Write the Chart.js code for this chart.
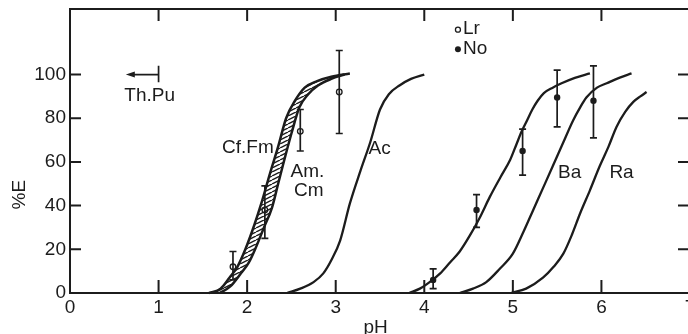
<!DOCTYPE html>
<html>
<head>
<meta charset="utf-8">
<script src="https://cdn.jsdelivr.net/npm/chart.js@4"></script>
<style>
  html, body { margin: 0; padding: 0; background: #fff; overflow: hidden; }
  #wrap { width: 688px; height: 334px; overflow: hidden; }
  canvas { display: block; }
</style>
</head>
<body>
<div id="wrap"><canvas id="c" width="700" height="334" style="width:700px;height:334px"></canvas></div>
<script>
// ---- tick values ----
const xTicks = [0, 1, 2, 3, 4, 5, 6, 7];
const yTicks = [0, 20, 40, 60, 80, 100];

// ---- curves (pH, %E) ----
const cfFmX = [1.57, 1.70, 1.80, 1.89, 1.98, 2.08, 2.16, 2.26, 2.35, 2.44, 2.54, 2.65, 2.79, 2.95, 3.16];
const cfFmY = [0, 2, 7, 12, 20, 31, 41, 55, 67, 80, 88, 94, 97, 99, 100.5];

const amCmX = [1.69, 1.81, 1.93, 2.02, 2.09, 2.19, 2.28, 2.35, 2.42, 2.50, 2.59, 2.69, 2.80, 2.95, 3.10];
const amCmY = [0, 3, 9, 14, 20, 30, 39, 50, 61, 73, 85, 91, 95, 98, 100];

const acX = [2.45, 2.60, 2.75, 2.86, 2.95, 3.05, 3.16, 3.28, 3.39, 3.50, 3.60, 3.72, 3.85, 4.00];
const acY = [0, 2, 5, 9, 15, 24, 41, 56, 69, 84, 91, 95, 98, 100];

const noCurveX = [3.83, 3.95, 4.06, 4.18, 4.29, 4.40, 4.51, 4.62, 4.74, 4.86, 4.97, 5.04, 5.10, 5.16, 5.22, 5.28, 5.35, 5.45, 5.55, 5.70, 5.87];
const noCurveY = [0, 2, 5, 9, 14, 19, 26, 34, 44, 53, 61, 68, 74, 79, 84, 88, 91.5, 94, 96, 98.5, 100.5];

const baX = [4.40, 4.55, 4.70, 4.85, 5.00, 5.12, 5.23, 5.34, 5.45, 5.57, 5.68, 5.76, 5.83, 5.95, 6.06, 6.20, 6.34];
const baY = [0, 2, 5, 11, 18, 28, 38, 48, 58, 69, 79, 85, 89.5, 94, 96, 98.5, 100.5];

const raX = [4.98, 5.15, 5.34, 5.46, 5.57, 5.67, 5.76, 5.87, 5.98, 6.08, 6.17, 6.27, 6.36, 6.44, 6.51];
const raY = [0, 2, 7, 12, 18, 27, 36.5, 47, 58, 67, 76, 83, 87.5, 90, 92];

// ---- measured points with error bars ----
const lrX = [1.84, 2.20, 2.60, 3.04];
const lrY = [12, 38, 74, 92];
const lrLo = [6, 25, 65, 73];
const lrHi = [19, 49, 84, 111];

const noX = [4.10, 4.59, 5.11, 5.50, 5.91];
const noY = [6, 38, 65, 89.5, 88];
const noLo = [2, 30, 54, 76, 71];
const noHi = [11, 45, 75, 102, 104];

// ---- text annotations (label, x, y in data units) ----
const labelText = ['Cf.Fm', 'Am.', 'Cm', 'Ac', 'Ba', 'Ra', 'Th.Pu'];
const labelX = [2.30, 2.49, 2.53, 3.37, 5.51, 6.09, 0.90];
const labelY = [66.5, 55.5, 47, 66, 55, 55, 90.5];
const labelAlign = ['right', 'left', 'left', 'left', 'left', 'left', 'center'];

const FONT = '"Liberation Sans", Arial, Helvetica, sans-serif';
const INK = '#1c1c1c';

const zip = (xs, ys) => xs.map((x, i) => ({ x, y: ys[i] }));

function hatchPattern() {
  const c = document.createElement('canvas');
  c.width = 8; c.height = 4;
  const g = c.getContext('2d');
  g.strokeStyle = INK;
  g.lineWidth = 1.4;
  for (let k = -1; k <= 1; k++) {
    g.beginPath();
    g.moveTo(k * 8, 4);
    g.lineTo(k * 8 + 8, 0);
    g.stroke();
  }
  const ctx = document.getElementById('c').getContext('2d');
  return ctx.createPattern(c, 'repeat');
}

const bandData = zip(cfFmX, cfFmY).concat(zip(amCmX, amCmY).reverse());

const curveStyle = {
  showLine: true, borderColor: INK, borderWidth: 2.3, pointRadius: 0,
  cubicInterpolationMode: 'monotone', fill: false, clip: false
};

const framePlugin = {
  id: 'frame',
  afterDraw(chart) {
    const { ctx, chartArea: a, scales: { x, y } } = chart;
    ctx.save();
    ctx.strokeStyle = INK;
    ctx.lineWidth = 2;
    ctx.strokeRect(a.left, a.top, a.right - a.left, a.bottom - a.top);
    ctx.beginPath();
    yTicks.forEach(v => {
      if (v === 0) return;
      const py = y.getPixelForValue(v);
      ctx.moveTo(a.left, py); ctx.lineTo(a.left + 11, py);
      ctx.moveTo(a.right, py); ctx.lineTo(a.right - 12, py);
    });
    xTicks.forEach(v => {
      if (v === 0 || v === 7) return;
      const px = x.getPixelForValue(v);
      ctx.moveTo(px, a.top); ctx.lineTo(px, a.top + 12);
      ctx.moveTo(px, a.bottom); ctx.lineTo(px, a.bottom - 13);
    });
    ctx.stroke();

    // error bars
    ctx.lineWidth = 1.7;
    const bars = (xs, lo, hi) => {
      xs.forEach((v, i) => {
        const px = x.getPixelForValue(v);
        const p1 = y.getPixelForValue(lo[i]);
        const p2 = y.getPixelForValue(hi[i]);
        ctx.beginPath();
        ctx.moveTo(px, p1); ctx.lineTo(px, p2);
        ctx.moveTo(px - 3.5, p1); ctx.lineTo(px + 3.5, p1);
        ctx.moveTo(px - 3.5, p2); ctx.lineTo(px + 3.5, p2);
        ctx.stroke();
      });
    };
    bars(lrX, lrLo, lrHi);
    bars(noX, noLo, noHi);

    // annotations
    ctx.fillStyle = INK;
    ctx.font = '19px ' + FONT;
    ctx.textBaseline = 'middle';
    labelText.forEach((t, i) => {
      ctx.textAlign = labelAlign[i];
      ctx.fillText(t, x.getPixelForValue(labelX[i]), y.getPixelForValue(labelY[i]));
    });

    // Th.Pu arrow
    const ay = y.getPixelForValue(100);
    const ax0 = x.getPixelForValue(0.63);
    const ax1 = x.getPixelForValue(1.0);
    ctx.lineWidth = 1.7;
    ctx.beginPath();
    ctx.moveTo(ax0 + 6, ay); ctx.lineTo(ax1, ay);
    ctx.moveTo(ax1, y.getPixelForValue(104)); ctx.lineTo(ax1, y.getPixelForValue(96.5));
    ctx.stroke();
    ctx.beginPath();
    ctx.moveTo(ax0, ay); ctx.lineTo(ax0 + 9, ay - 3); ctx.lineTo(ax0 + 9, ay + 3); ctx.closePath();
    ctx.fill();

    // legend
    const lx = x.getPixelForValue(4.38);
    const ly1 = y.getPixelForValue(121);
    const ly2 = y.getPixelForValue(112);
    ctx.beginPath(); ctx.arc(lx, ly1 + 1, 2.5, 0, Math.PI * 2);
    ctx.lineWidth = 1.3; ctx.stroke();
    ctx.beginPath(); ctx.arc(lx, ly2 + 1, 3, 0, Math.PI * 2); ctx.fill();
    ctx.textAlign = 'left';
    ctx.fillText('Lr', lx + 5, ly1);
    ctx.fillText('No', lx + 5, ly2);

    // axis titles
    ctx.textAlign = 'center';
    ctx.fillText('pH', x.getPixelForValue(3.45), a.bottom + 35);
    ctx.save();
    ctx.translate(20, y.getPixelForValue(45));
    ctx.rotate(-Math.PI / 2);
    ctx.fillText('%E', 0, 0);
    ctx.restore();
    ctx.restore();
  }
};

new Chart(document.getElementById('c'), {
  type: 'scatter',
  data: {
    datasets: [
      { data: bandData, showLine: true, fill: 'shape', backgroundColor: hatchPattern(), borderWidth: 0, pointRadius: 0, tension: 0.35, clip: false },
      Object.assign({ data: zip(cfFmX, cfFmY) }, curveStyle, { borderWidth: 2.5 }),
      Object.assign({ data: zip(amCmX, amCmY) }, curveStyle, { borderWidth: 2.5 }),
      Object.assign({ data: zip(acX, acY) }, curveStyle),
      Object.assign({ data: zip(noCurveX, noCurveY) }, curveStyle),
      Object.assign({ data: zip(baX, baY) }, curveStyle),
      Object.assign({ data: zip(raX, raY) }, curveStyle),
      { data: zip(lrX, lrY), showLine: false, pointRadius: 2.8, pointBackgroundColor: '#fff', pointBorderColor: INK, pointBorderWidth: 1.3 },
      { data: zip(noX, noY), showLine: false, pointRadius: 3.2, pointBackgroundColor: INK, pointBorderColor: INK, pointBorderWidth: 0 }
    ]
  },
  options: {
    responsive: false,
    animation: false,
    devicePixelRatio: 1,
    layout: { padding: { top: 9, right: 10, left: 0, bottom: 0 } },
    plugins: { legend: { display: false }, tooltip: { enabled: false } },
    scales: {
      x: {
        type: 'linear', min: 0, max: 7,
        grid: { display: false, drawTicks: false },
        border: { display: false },
        ticks: { padding: 3, color: INK, font: { size: 19, family: FONT }, maxRotation: 0, autoSkip: false },
        afterBuildTicks: s => { s.ticks = xTicks.map(v => ({ value: v })); },
        afterFit: s => { s.height = 41; s.paddingLeft = 0; s.paddingRight = 0; }
      },
      y: {
        type: 'linear', min: 0, max: 130,
        grid: { display: false, drawTicks: false },
        border: { display: false },
        ticks: { padding: 4, color: INK, font: { size: 19, family: FONT }, autoSkip: false },
        afterBuildTicks: s => { s.ticks = yTicks.map(v => ({ value: v })); },
        afterFit: s => { s.width = 70; s.paddingTop = 0; s.paddingBottom = 0; }
      }
    }
  },
  plugins: [framePlugin]
});
</script>
</body>
</html>
